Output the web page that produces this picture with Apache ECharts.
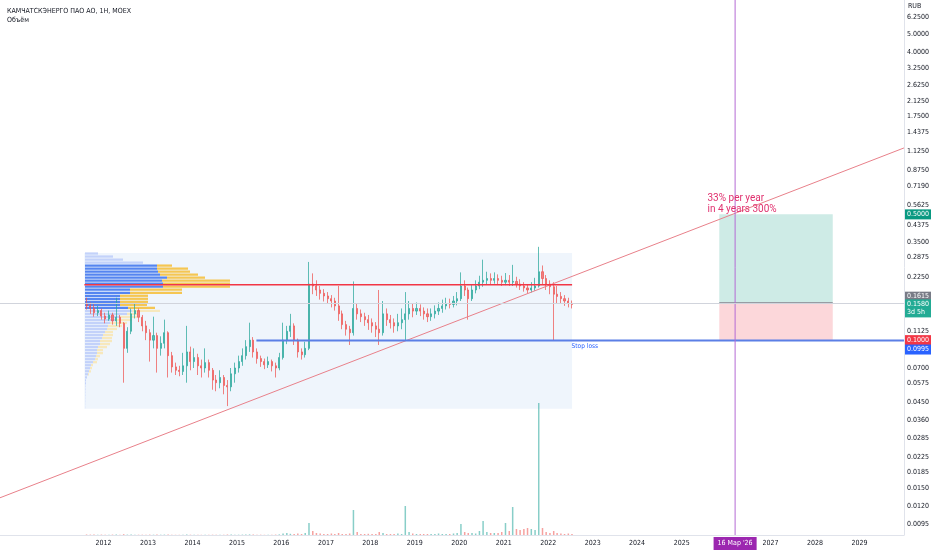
<!DOCTYPE html>
<html>
<head>
<meta charset="utf-8">
<script src="https://cdn.jsdelivr.net/npm/echarts@6/dist/echarts.min.js"></script>
<style>
html, body { margin: 0; padding: 0; background: #fff; }
#chart { width: 932px; height: 550px; }
</style>
</head>
<body>
<div id="chart"></div>
<script>
var FONT = 'DejaVu Sans Condensed, Roboto, sans-serif';
function t(s) { return new Date(s + 'T00:00:00Z').getTime(); }

// monthly candles, Aug 2011 .. Jul 2022
var opens = [.160,.155,.150,.142,.146,.136,.131,.138,.128,.134,
  .124,.090,.112,.140,.146,.134,.120,.110,.100,.106,
  .090,.096,.110,.082,.071,.068,.067,.072,.086,.076,
  .080,.072,.070,.075,.068,.060,.058,.062,.056,.055,
  .065,.070,.076,.082,.092,.100,.086,.079,.076,.073,
  .076,.072,.070,.080,.100,.112,.120,.100,.086,.083,
  .090,.205,.200,.190,.182,.176,.170,.165,.155,.140,
  .122,.115,.110,.150,.140,.135,.130,.125,.120,.115,
  .110,.140,.130,.125,.120,.125,.130,.140,.150,.145,
  .150,.145,.140,.135,.140,.145,.150,.155,.160,.158,
  .165,.170,.200,.190,.170,.190,.200,.210,.215,.220,
  .215,.220,.215,.210,.215,.210,.212,.205,.200,.195,
  .190,.195,.200,.240,.220,.205,.198,.180,.175,.170,
  .165,.160];
var closes = [.155,.150,.142,.146,.136,.131,.138,.128,.134,.124,
  .090,.112,.140,.146,.134,.120,.110,.100,.106,.090,
  .096,.110,.082,.071,.068,.067,.072,.086,.076,.080,
  .072,.070,.075,.068,.060,.058,.062,.056,.055,.065,
  .070,.076,.082,.092,.100,.086,.079,.076,.073,.076,
  .072,.070,.080,.100,.112,.120,.100,.086,.083,.090,
  .205,.200,.190,.182,.176,.170,.165,.155,.140,.122,
  .115,.110,.150,.140,.135,.130,.125,.120,.115,.110,
  .140,.130,.125,.120,.125,.130,.140,.150,.145,.150,
  .145,.140,.135,.140,.145,.150,.155,.160,.158,.165,
  .170,.200,.190,.170,.190,.200,.210,.215,.220,.215,
  .220,.215,.210,.215,.210,.212,.205,.200,.195,.190,
  .195,.200,.240,.220,.205,.198,.180,.175,.170,.165,
  .160,.158];
var lows = [.148,.140,.135,.136,.130,.124,.128,.122,.120,.118,
  .058,.085,.108,.132,.126,.112,.100,.076,.090,.066,
  .082,.090,.062,.066,.064,.063,.064,.058,.068,.070,
  .064,.062,.066,.062,.053,.052,.054,.050,.043,.052,
  .058,.066,.072,.078,.086,.080,.074,.071,.069,.070,
  .067,.062,.068,.078,.095,.104,.094,.080,.078,.080,
  .088,.180,.176,.168,.164,.160,.152,.146,.128,.115,
  .106,.094,.106,.130,.126,.120,.114,.110,.104,.094,
  .106,.120,.116,.110,.112,.115,.100,.130,.134,.138,
  .136,.130,.126,.128,.132,.138,.142,.148,.150,.152,
  .156,.165,.176,.130,.165,.182,.192,.198,.205,.204,
  .206,.204,.200,.202,.200,.200,.196,.190,.186,.182,
  .184,.188,.196,.205,.190,.180,.100,.160,.160,.155,
  .152,.150];
var highs = [.172,.162,.158,.155,.150,.142,.146,.142,.172,.138,
  .126,.118,.150,.160,.150,.138,.128,.115,.135,.110,
  .105,.130,.112,.086,.075,.072,.085,.120,.092,.090,
  .084,.078,.090,.078,.070,.064,.068,.064,.060,.070,
  .075,.082,.090,.100,.125,.104,.090,.082,.079,.081,
  .078,.075,.085,.125,.120,.140,.124,.102,.090,.098,
  .272,.235,.215,.200,.192,.185,.178,.172,.200,.146,
  .128,.120,.212,.160,.148,.142,.138,.132,.126,.190,
  .165,.150,.138,.132,.140,.150,.185,.165,.160,.162,
  .158,.152,.150,.150,.156,.162,.168,.172,.170,.176,
  .185,.238,.215,.196,.205,.215,.228,.280,.240,.235,
  .238,.232,.228,.236,.230,.262,.225,.218,.210,.205,
  .210,.222,.330,.260,.230,.215,.210,.200,.185,.178,
  .172,.166];
// monthly volume, mln shares
var volumes = [.5,.4,.4,.3,.4,.3,.3,.4,.5,.3,
  .8,.4,.4,.3,.3,.3,.3,.4,.3,.4,
  .3,.4,.5,.3,.2,.2,.3,.5,.3,.3,
  .3,.2,.3,.2,.3,.2,.2,.3,.5,.4,
  .3,.3,.4,.4,.6,.4,.3,.3,.2,.3,
  .3,.4,.6,1.5,2,1.2,1,1.5,1,2,
  12,4,2,1.5,1,1,1.5,1,2,1,
  1,1.5,25,3,1,1,1.2,1,1,3,
  2,1,1,1,1.5,1,29,3,1.5,1,
  1,1,1,1,1,1.5,1,1,1,1.5,
  2,11,3,2,2,1.5,4,14,3,2,
  2,2,3,12,4,28,6,5,6,7,
  6,5,132,7,3,2,4,2,1.5,1,
  1.5,1];

// volume profile rows, top (high price) to bottom
var profileUp = [13,28,38,58,72,72,73,75,82,77,78,78,45,45,35,35,35,35,43,47,
  42,35,30,25,23,22,20,18,17,15,15,13,12,12,11,10,8,6,5,4,3,2,1,1,.5,.5,.4,.4,.3,.3,.2,.2];
var profileDown = [0,0,0,0,15,31,32,38,38,68,67,67,52,52,28,28,28,27,27,28,
  11,17,17,17,14,10,8,10,10,12,10,9,6,6,4,3,4,2,2,2,1,0,0,0,0,0,0,0,0,0,0,0];
var valueAreaFirst = 4, valueAreaLast = 18;

var yearTicks = [2012,2013,2014,2015,2016,2017,2018,2019,2020,2021,2022,2023,2024,2025,2027,2028,2029];
var priceTicks = [6.25,5,4,3.25,2.625,2.125,1.75,1.4375,1.125,0.875,0.719,0.5625,0.4375,0.35,0.2875,0.225,
  0.1125,0.07,0.0575,0.045,0.036,0.0285,0.0225,0.0185,0.015,0.012,0.0095];

// drawings
var xStart = t('2009-09-03'), xEnd = t('2030-01-01');
var yMin = 0.00826, yMax = 7.77;
var trendLine = [[xStart, 0.0133], [xEnd, 1.17]];
var pocPrice = 0.203;
var rangeStart = t('2011-07-28'), rangeEnd = t('2022-07-16');
var rangeTop = 0.305, rangeBottom = 0.0415;
var stopPrice = 0.0995, stopFrom = t('2015-06-10');
var lastPrice = 0.158;
var posStart = t('2025-11-06'), posEnd = t('2028-05-26');
var entry = 0.1615, target = 0.5, stop = 0.1;
var markDate = t('2026-03-16');

var months = [];
for (var i = 0; i < closes.length; i++) months.push(Date.UTC(2011, 7 + i, 15));

var candles = [], vols = [];
for (var i = 0; i < closes.length; i++) {
  candles.push([months[i], opens[i], closes[i], lows[i], highs[i]]);
  vols.push([months[i], volumes[i]]);
}
var rows = profileUp.map(function (v, i) { return i; });

function badge(value, text, color, dy) {
  return {
    coord: [xEnd, value],
    label: {
      show: true, position: 'right', distance: 1, formatter: text,
      backgroundColor: color, color: '#fff', padding: [1, 2], fontSize: 7,
      lineHeight: 8, fontFamily: FONT, offset: [0, dy]
    }
  };
}

var chart = echarts.init(document.getElementById('chart'));
chart.setOption({
  animation: false,
  backgroundColor: '#ffffff',
  title: {
    text: 'КАМЧАТСКЭНЕРГО ПАО АО, 1Н, MOEX', subtext: 'Объём',
    left: 2, top: 3, itemGap: 2,
    textStyle: { fontSize: 7, color: '#131722', fontWeight: 'normal', fontFamily: FONT },
    subtextStyle: { fontSize: 7, color: '#131722', fontFamily: FONT }
  },
  grid: [
    { left: 0, right: 22, top: 0, bottom: 15 },
    { left: 85, top: 252, width: 490, height: 157 }
  ],
  xAxis: [
    {
      type: 'value', gridIndex: 0, min: xStart, max: xEnd, scale: true,
      axisLine: { show: true, onZero: false, lineStyle: { color: '#e0e3eb' } },
      axisTick: { show: false }, splitLine: { show: false },
      axisLabel: {
        customValues: yearTicks.map(function (y) { return Date.UTC(y, 0, 1); }),
        formatter: function (v) { return String(new Date(v).getUTCFullYear()); },
        fontSize: 7, color: '#131722', margin: 5, fontFamily: FONT
      }
    },
    { type: 'value', gridIndex: 1, min: 0, max: 490, show: false }
  ],
  yAxis: [
    {
      type: 'log', gridIndex: 0, position: 'right', min: yMin, max: yMax,
      name: 'RUB', nameLocation: 'end', nameGap: -10,
      nameTextStyle: { fontSize: 7, color: '#131722', align: 'left', padding: [0, 0, 0, 4], fontFamily: FONT },
      axisLine: { show: true, lineStyle: { color: '#e0e3eb' } },
      axisTick: { show: false }, splitLine: { show: false },
      axisLabel: {
        customValues: priceTicks,
        formatter: function (v) { return Number(v).toFixed(4); },
        fontSize: 7, color: '#131722', margin: 3, fontFamily: FONT
      }
    },
    { type: 'value', gridIndex: 0, min: 0, max: 535, show: false },
    { type: 'category', gridIndex: 1, inverse: true, data: rows, show: false }
  ],
  series: [
    {
      name: 'range', type: 'line', data: [[rangeStart, rangeTop], [rangeEnd, rangeBottom]],
      symbol: 'none', lineStyle: { opacity: 0 }, z: 0, silent: true,
      markArea: {
        silent: true, itemStyle: { color: '#eff5fc' },
        data: [[{ coord: [rangeStart, rangeTop] }, { coord: [rangeEnd, rangeBottom] }]]
      }
    },
    {
      name: 'up', type: 'bar', xAxisIndex: 1, yAxisIndex: 2, stack: 'vp', data: profileUp,
      barCategoryGap: '25%',
      itemStyle: { color: function (p) { return p.dataIndex >= valueAreaFirst && p.dataIndex <= valueAreaLast ? '#5585f0' : '#c3d2fa'; } }
    },
    {
      name: 'down', type: 'bar', xAxisIndex: 1, yAxisIndex: 2, stack: 'vp', data: profileDown,
      barCategoryGap: '25%',
      itemStyle: { color: function (p) { return p.dataIndex >= valueAreaFirst && p.dataIndex <= valueAreaLast ? '#f5c652' : '#f7e8bd'; } }
    },
    {
      name: 'Объём', type: 'bar', xAxisIndex: 0, yAxisIndex: 1, data: vols, barWidth: 1.5,
      itemStyle: { color: function (p) { return closes[p.dataIndex] >= opens[p.dataIndex] ? 'rgba(38,166,154,0.55)' : 'rgba(239,83,80,0.55)'; } }
    },
    {
      name: 'price', type: 'candlestick', xAxisIndex: 0, yAxisIndex: 0, data: candles,
      encode: { x: 0, y: [1, 2, 3, 4] }, barMaxWidth: 1.6, barMinWidth: 1, z: 3,
      itemStyle: { color: '#26a69a', color0: '#ef5350', borderColor: '#26a69a', borderColor0: '#ef5350', borderWidth: 1, opacity: 0.72 },
      markLine: {
        silent: true, symbol: 'none', label: { show: false },
        lineStyle: { color: '#d1d4dc', width: 1, type: 'solid' },
        data: [{ yAxis: lastPrice }]
      },
      markPoint: {
        symbol: 'circle', symbolSize: 0, silent: true,
        data: [
          badge(target, '0.5000', '#089981', 0),
          badge(entry, '0.1615', '#787b86', -6),
          badge(lastPrice, '0.1580\n3d 5h', '#22ab94', 4),
          badge(stop, '0.1000', '#f23645', 0),
          badge(stopPrice, '0.0995', '#2962ff', 9)
        ]
      }
    },
    {
      name: 'trend', type: 'line', data: trendLine, symbol: 'none', z: 4,
      lineStyle: { color: '#e8808a', width: 1 },
      markPoint: {
        symbol: 'circle', symbolSize: 0, silent: true,
        data: [{
          coord: [t('2025-08-01'), 0.571],
          label: {
            show: true, position: 'right', distance: 0,
            formatter: '33% per year\nin 4 years 300%',
            color: '#e0306e', fontSize: 10, lineHeight: 11, fontFamily: 'Roboto, sans-serif'
          }
        }]
      }
    },
    {
      name: 'poc', type: 'line', data: [[rangeStart, pocPrice], [rangeEnd, pocPrice]], symbol: 'none', z: 4,
      lineStyle: { color: '#f23645', width: 1.5 }
    },
    {
      name: 'Stop loss', type: 'line', data: [[stopFrom, stopPrice], [xEnd, stopPrice]], symbol: 'none', z: 4,
      lineStyle: { color: '#5b7fe6', width: 2 },
      markPoint: {
        symbol: 'circle', symbolSize: 0, silent: true,
        data: [{
          coord: [t('2022-07-12'), stopPrice],
          label: { show: true, position: 'right', distance: 0, formatter: 'Stop loss', color: '#2962ff', fontSize: 6.5, fontFamily: FONT, offset: [0, 6] }
        }]
      }
    },
    {
      name: 'position', type: 'line', data: [[posStart, entry], [posEnd, entry]], symbol: 'none', z: 3,
      lineStyle: { color: '#8a8d96', width: 1 },
      markArea: {
        silent: true,
        data: [
          [{ coord: [posStart, target], itemStyle: { color: 'rgba(8,153,129,0.2)' } }, { coord: [posEnd, entry] }],
          [{ coord: [posStart, entry], itemStyle: { color: 'rgba(242,54,69,0.2)' } }, { coord: [posEnd, stop] }]
        ]
      }
    },
    {
      name: 'date', type: 'line', data: [[markDate, yMin], [markDate, yMax]], symbol: 'none', z: 4,
      lineStyle: { color: '#b46ad4', width: 1 },
      markPoint: {
        symbol: 'circle', symbolSize: 0, silent: true,
        data: [{
          coord: [markDate, yMin],
          label: {
            show: true, position: 'bottom', distance: 2, formatter: "16 Мар '26",
            backgroundColor: '#9c27b0', color: '#fff', padding: [3, 4], fontSize: 7, fontFamily: FONT
          }
        }]
      }
    }
  ]
});
</script>
</body>
</html>
